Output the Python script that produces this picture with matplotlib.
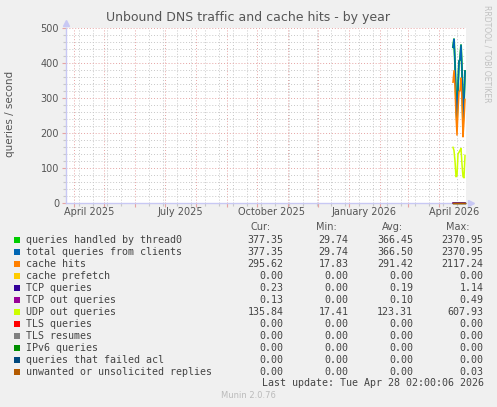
import datetime as dt
import numpy as np
import matplotlib.pyplot as plt
import matplotlib.dates as mdates
from matplotlib.patches import Rectangle

# daily averages (only the last days of the year have data)
days = [dt.datetime(2026, 4, d) for d in range(15, 28)]
thread0 = [445, 468, 400, 300, 235, 330, 405, 410, 451, 380, 232, 290, 377]
total = [445, 468, 400, 300, 235, 330, 405, 410, 451, 380, 232, 290, 377]
cache_hits = [345, 378, 330, 250, 194, 265, 318, 322, 357, 290, 189, 235, 296]
prefetch = [0, 0, 0, 0, 0, 0, 0, 0, 0, 0, 0, 0, 0]
tcp_q = [0.2, 0.2, 0.2, 0.2, 0.1, 0.2, 0.2, 0.2, 0.2, 0.2, 0.1, 0.2, 0.23]
tcp_out = [0.1, 0.1, 0.1, 0.1, 0.1, 0.1, 0.1, 0.1, 0.1, 0.1, 0.1, 0.1, 0.13]
udp_out = [159, 150, 120, 75, 78, 140, 145, 150, 156, 110, 75, 72, 136]
tls_q = [0, 0, 0, 0, 0, 0, 0, 0, 0, 0, 0, 0, 0]
tls_res = [0, 0, 0, 0, 0, 0, 0, 0, 0, 0, 0, 0, 0]
ipv6 = [0, 0, 0, 0, 0, 0, 0, 0, 0, 0, 0, 0, 0]
failed_acl = [0, 0, 0, 0, 0, 0, 0, 0, 0, 0, 0, 0, 0]
unwanted = [0, 0, 0, 0, 0, 0, 0, 0, 0, 0, 0, 0, 0]

series = [thread0, total, cache_hits, prefetch, tcp_q, tcp_out, udp_out,
          tls_q, tls_res, ipv6, failed_acl, unwanted]
labels = ["queries handled by thread0", "total queries from clients",
          "cache hits", "cache prefetch", "TCP queries", "TCP out queries",
          "UDP out queries", "TLS queries", "TLS resumes", "IPv6 queries",
          "queries that failed acl", "unwanted or unsolicited replies"]
colors = ["#00cc00", "#0066b3", "#ff8000", "#ffcc00", "#330099", "#990099",
          "#ccff00", "#ff0000", "#808080", "#008f00", "#00487d", "#b35a00"]
cur = ["377.35", "377.35", "295.62", "0.00", "0.23", "0.13", "135.84",
       "0.00", "0.00", "0.00", "0.00", "0.00"]
mins = ["29.74", "29.74", "17.83", "0.00", "0.00", "0.00", "17.41",
        "0.00", "0.00", "0.00", "0.00", "0.00"]
avgs = ["366.45", "366.50", "291.42", "0.00", "0.19", "0.10", "123.31",
        "0.00", "0.00", "0.00", "0.00", "0.00"]
maxs = ["2370.95", "2370.95", "2117.24", "0.00", "1.14", "0.49", "607.93",
        "0.00", "0.00", "0.00", "0.00", "0.03"]

start = dt.datetime(2025, 3, 24)
end = dt.datetime(2026, 4, 28)
month_starts = [dt.datetime(2025 + (m - 1) // 12, (m - 1) % 12 + 1, 1) for m in range(4, 17)]
biweekly = [dt.datetime(2025, 4, 6) + dt.timedelta(days=14 * k) for k in range(28)]
label_months = [dt.datetime(2025, 4, 1), dt.datetime(2025, 7, 1), dt.datetime(2025, 10, 1),
                dt.datetime(2026, 1, 1), dt.datetime(2026, 4, 1)]
label_text = ["April 2025", "July 2025", "October 2025", "January 2026", "April 2026"]

W, H = 497, 407
fig = plt.figure(figsize=(W / 100, H / 100), dpi=100)
fig.patch.set_facecolor("#f0f0f0")

ax = fig.add_axes([66 / W, (H - 203) / H, 400 / W, 175 / H])
ax.set_facecolor("white")
ax.set_xlim(start, end)
ax.set_ylim(0, 500)

red = "#e6a3a3"
gray = "#c8c8c8"
axis_col = "#c8c8f4"

ax.set_yticks(np.arange(0, 501, 100))
ax.set_yticks(np.arange(0, 501, 20), minor=True)
ax.set_xticks(month_starts)
ax.set_xticks(biweekly, minor=True)
ax.set_xticklabels([])
ax.grid(which="minor", color=gray, ls=(0, (1, 2)), lw=0.7)
ax.grid(which="major", color=red, ls=(0, (1, 2)), lw=0.7)
ax.set_axisbelow(True)
ax.tick_params(which="major", color=red, length=3, width=0.8, labelsize=7,
               labelcolor="#555555", pad=2)
ax.tick_params(which="minor", color=gray, length=2, width=0.8)
for s in ["top", "right"]:
    ax.spines[s].set_visible(False)
for s in ["left", "bottom"]:
    ax.spines[s].set_color(axis_col)
    ax.spines[s].set_linewidth(1)

for i, (vals, c) in enumerate(zip(series, colors)):
    lw = 1.4 if i == 0 else (1.1 if max(vals) > 1 else 0.9)
    ax.plot(days, vals, color=c, lw=lw, clip_on=False, zorder=3)

for d, t in zip(label_months, label_text):
    ax.text(d + dt.timedelta(days=15), -0.025, t, transform=ax.get_xaxis_transform(),
            ha="center", va="top", fontsize=7, color="#555555")

# overlay in pixel coordinates for legend and decorations
ov = fig.add_axes([0, 0, 1, 1])
ov.set_xlim(0, W)
ov.set_ylim(H, 0)
ov.axis("off")
ov.patch.set_alpha(0)

ov.plot([66], [23], marker="^", color=axis_col, ms=4)
ov.plot([471], [203], marker=">", color=axis_col, ms=4)

ov.text(248, 18, "Unbound DNS traffic and cache hits - by year", ha="center",
        va="center", fontsize=9, color="#555555")
ov.text(10, 114, "queries / second", rotation=90, ha="center", va="center",
        fontsize=7.5, color="#555555")
ov.text(487, 5, "RRDTOOL / TOBI OETIKER", rotation=270, ha="center", va="top",
        fontsize=5.5, color="#c0c0c0")

mono = "DejaVu Sans Mono"
for x, h in zip([270.7, 336.7, 403.3, 469.3], ["Cur:", "Min:", "Avg:", "Max:"]):
    ov.text(x, 227, h, ha="right", va="center", fontsize=7, color="#555555")

for i, lab in enumerate(labels):
    y = 240 + 12 * i
    ov.add_patch(Rectangle((14, y - 3), 6, 6, color=colors[i], lw=0))
    ov.text(26.5, y, lab, ha="left", va="center", fontsize=7.2, family=mono, color="#444444")
    for x, v in zip([283.5, 348.5, 413, 483.5], [cur[i], mins[i], avgs[i], maxs[i]]):
        ov.text(x, y, v, ha="right", va="center", fontsize=7.2, family=mono, color="#444444")

ov.text(483.5, 383.5, "Last update: Tue Apr 28 02:00:06 2026", ha="right", va="center",
        fontsize=7.2, family=mono, color="#444444")
ov.text(248, 396, "Munin 2.0.76", ha="center", va="center", fontsize=6, color="#bbbbbb")

fig.savefig("out.png", dpi=100, facecolor=fig.get_facecolor())
